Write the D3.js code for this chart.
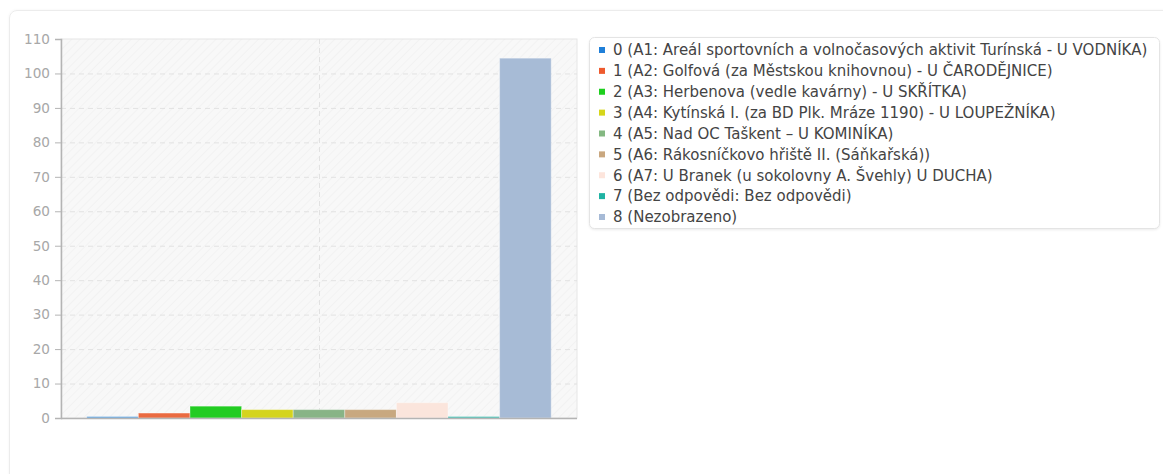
<!DOCTYPE html>
<html>
<head>
<meta charset="utf-8">
<script src="https://cdn.jsdelivr.net/npm/d3@7"></script>
<style>
  body { margin: 0; background: #fff; font-family: "DejaVu Sans", sans-serif; }
  .card { position: absolute; left: 9px; top: 10px; width: 1170px; height: 480px;
          border: 1px solid #ececec; border-radius: 8px; box-shadow: 0 0 3px rgba(0,0,0,0.05); }
  #chart { position: absolute; left: 0; top: 0; }
</style>
</head>
<body>
<div class="card"></div>
<div id="chart"></div>
<script>
// answer categories
var categories = ["0", "1", "2", "3", "4", "5", "6", "7", "8"];
var labels = [
  "0 (A1: Areál sportovních a volnočasových aktivit Turínská - U VODNÍKA)",
  "1 (A2: Golfová (za Městskou knihovnou) - U ČARODĚJNICE)",
  "2 (A3: Herbenova (vedle kavárny) - U SKŘÍTKA)",
  "3 (A4: Kytínská I. (za BD Plk. Mráze 1190) - U LOUPEŽNÍKA)",
  "4 (A5: Nad OC Taškent – U KOMINÍKA)",
  "5 (A6: Rákosníčkovo hřiště II. (Sáňkařská))",
  "6 (A7: U Branek (u sokolovny A. Švehly) U DUCHA)",
  "7 (Bez odpovědi: Bez odpovědi)",
  "8 (Nezobrazeno)"
];
var values = [0, 1, 3, 2, 2, 2, 4, 0, 104];
var colors = ["#1f7fd8", "#ee5a2e", "#1ecf1e", "#d6d61a", "#84b882", "#c9a77f", "#fde5dc", "#1fb3a3", "#a6bad6"];
var barColors = ["#5aa0e0", "#ea6a40", "#22cc22", "#d4d41e", "#88b486", "#c8a880", "#fbe5dc", "#3cbcae", "#a7bbd6"];
var yTicks = [0, 10, 20, 30, 40, 50, 60, 70, 80, 90, 100, 110];

var W = 1163, H = 474;
var m = { left: 61, top: 39, right: 577, bottom: 418 };

var svg = d3.select("#chart").append("svg").attr("width", W).attr("height", H);

var defs = svg.append("defs");
var pat = defs.append("pattern").attr("id", "hatch")
  .attr("patternUnits", "userSpaceOnUse").attr("width", 6).attr("height", 6)
  .attr("patternTransform", "rotate(45)");
pat.append("rect").attr("width", 6).attr("height", 6).attr("fill", "#f8f8f8");
pat.append("line").attr("x1", 0).attr("y1", 0).attr("x2", 0).attr("y2", 6)
  .attr("stroke", "#f1f1f1").attr("stroke-width", 1.5);

var x = d3.scaleBand().domain(categories).range([m.left, m.right]).paddingInner(0).paddingOuter(0.5);
var y = d3.scaleLinear().domain([0, 110]).range([m.bottom, m.top]);

// plot background
svg.append("rect").attr("x", m.left).attr("y", m.top)
  .attr("width", m.right - m.left).attr("height", m.bottom - m.top)
  .attr("fill", "url(#hatch)").attr("stroke", "#e6e6e6");

// grid
svg.append("g").selectAll("line").data(yTicks.filter(function(d) { return d > 0 && d < 110; }))
  .enter().append("line")
  .attr("x1", m.left).attr("x2", m.right)
  .attr("y1", function(d) { return y(d) + 0.5; }).attr("y2", function(d) { return y(d) + 0.5; })
  .attr("stroke", "#e2e2e2").attr("stroke-dasharray", "5,4");
svg.append("line")
  .attr("x1", (m.left + m.right) / 2 + 0.5).attr("x2", (m.left + m.right) / 2 + 0.5)
  .attr("y1", m.top).attr("y2", m.bottom)
  .attr("stroke", "#e2e2e2").attr("stroke-dasharray", "5,4");

// bars
svg.append("g").selectAll("rect").data(values).enter().append("rect")
  .attr("x", function(d, i) { return x(categories[i]); })
  .attr("width", x.bandwidth())
  .attr("y", function(d) { return y(d) - 1.5; })
  .attr("height", function(d) { return y(0) - y(d) + 1.5; })
  .attr("fill", function(d, i) { return barColors[i]; })
  .attr("stroke", "rgba(255,255,255,0.35)").attr("stroke-width", 1);

// y axis
var yAxis = svg.append("g").attr("transform", "translate(" + m.left + ",0)")
  .call(d3.axisLeft(y).tickValues(yTicks).tickSize(6).tickPadding(5));
yAxis.select(".domain").attr("stroke", "#b4b4b4").attr("stroke-width", 1.5);
yAxis.selectAll(".tick line").attr("stroke", "#b4b4b4");
yAxis.selectAll(".tick text").attr("fill", "#a8a8a8")
  .style("font-family", "DejaVu Sans").style("font-size", "13.6px");

svg.append("line").attr("x1", m.left).attr("x2", m.right)
  .attr("y1", m.bottom + 0.5).attr("y2", m.bottom + 0.5)
  .attr("stroke", "#b4b4b4").attr("stroke-width", 1.5);

// legend
var lg = svg.append("g");
lg.append("rect").attr("x", 589.5).attr("y", 37.5).attr("width", 570).attr("height", 191)
  .attr("rx", 5).attr("fill", "#fff").attr("stroke", "#e4e4e4")
  .style("filter", "drop-shadow(0 1px 1px rgba(0,0,0,0.08))");
var rowY = d3.scalePoint().domain(categories).range([50, 217]);
var items = lg.selectAll("g.item").data(labels).enter().append("g").attr("class", "item")
  .attr("transform", function(d, i) { return "translate(599," + rowY(categories[i]) + ")"; });
items.append("rect").attr("x", 0).attr("y", -3).attr("width", 6).attr("height", 6)
  .attr("fill", function(d, i) { return colors[i]; });
items.append("text").attr("x", 14).attr("y", 0).attr("dy", "0.35em")
  .attr("fill", "#444").style("font-family", "DejaVu Sans").style("font-size", "15px")
  .text(function(d) { return d; });
</script>
</body>
</html>
